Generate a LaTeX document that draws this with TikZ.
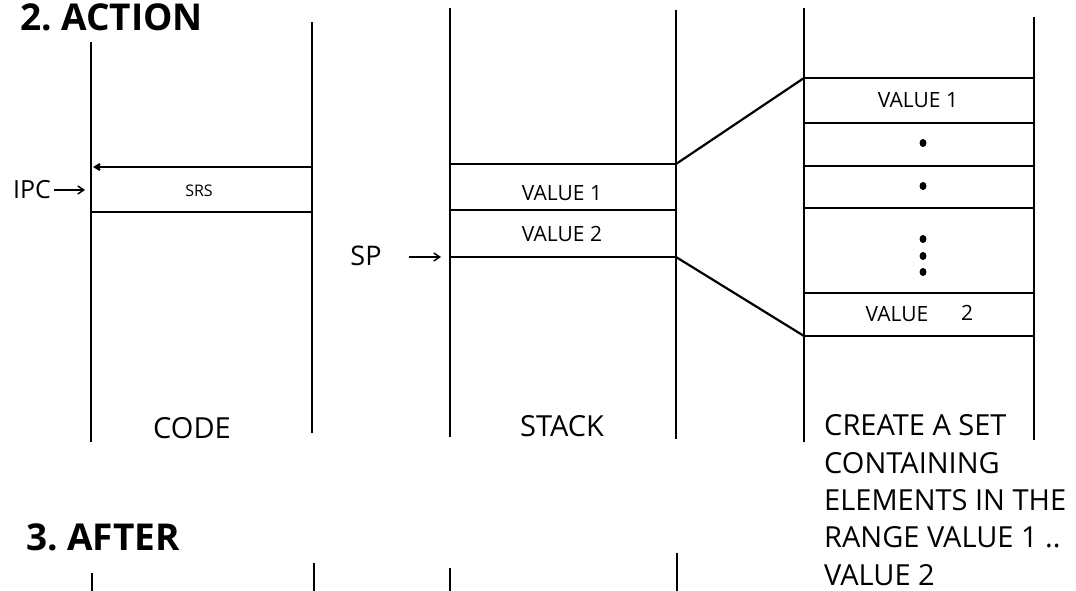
\documentclass[tikz,border=0pt]{standalone}
\usepackage{fontspec}
\setmainfont{Open Sans}
\usetikzlibrary{arrows.meta}
\usetikzlibrary{shapes.geometric}
\tikzset{
  vline/.style={line width=1.4pt},
  hline/.style={line width=2.2pt},
  diag/.style={line width=2.2pt},
  lbl/.style={inner sep=0pt, font=\fontsize{29}{32}\selectfont},
  small/.style={inner sep=0pt, font=\fontsize{21}{24}\selectfont},
  head/.style={inner sep=0pt, anchor=west, font=\bfseries\fontsize{37}{40}\selectfont},
  dotmark/.style={ellipse, fill=black, inner sep=0pt, minimum width=7pt, minimum height=8pt},
  ptr/.style={line width=1.4pt, -{Straight Barb[length=6pt,width=8pt]}}
}
\begin{document}
\begin{tikzpicture}[x=1pt,y=-1pt]
\useasboundingbox (0,0) rectangle (1076,591);
% column coordinates
\coordinate (cLt) at (91,42);   \coordinate (cLb) at (91,442);
\coordinate (cRt) at (312,22);  \coordinate (cRb) at (312,433);
\coordinate (sLt) at (450,8);   \coordinate (sLb) at (450,437);
\coordinate (sRt) at (676,10);  \coordinate (sRb) at (676,439);
\coordinate (tLt) at (804,8);   \coordinate (tLb) at (804,442);
\coordinate (tRt) at (1034,17); \coordinate (tRb) at (1034,440);
\draw[vline] (cLt) -- (cLb);
\draw[vline] (cRt) -- (cRb);
\draw[vline] (sLt) -- (sLb);
\draw[vline] (sRt) -- (sRb);
\draw[vline] (tLt) -- (tLb);
\draw[vline] (tRt) -- (tRb);
% headings
\node[head] (h2) at (20,17) {2.\ ACTION};
\node[head] (h3) at (26,537) {3.\ AFTER};
% code rows
\coordinate (c1L) at (93,167); \coordinate (c1R) at (312,167);
\coordinate (c2L) at (91,212); \coordinate (c2R) at (312,212);
\draw[hline, -{Straight Barb[length=5pt,width=6pt]}] (c1R) -- (c1L);
\draw[hline] (c2L) -- (c2R);
\node[small, font=\fontsize{16}{20}\selectfont] (srs) at (199,191) {SRS};
\node[lbl, font=\fontsize{25}{28}\selectfont] (ipc) at (32,190) {IPC};
\coordinate (ipcS) at (54,190); \coordinate (ipcE) at (85,190);
\draw[ptr] (ipcS) -- (ipcE);
% stack rows
\coordinate (s1L) at (450,164); \coordinate (s1R) at (676,164);
\coordinate (s2L) at (450,210); \coordinate (s2R) at (676,210);
\coordinate (s3L) at (450,257); \coordinate (s3R) at (676,257);
\draw[hline] (s1L) -- (s1R);
\draw[hline] (s2L) -- (s2R);
\draw[hline] (s3L) -- (s3R);
\node[small] (sv1) at (562,193) {VALUE 1};
\node[small] (sv2) at (562,234) {VALUE 2};
\node[lbl, font=\fontsize{27}{30}\selectfont] (sp) at (366,256) {SP};
\coordinate (spS) at (409,257); \coordinate (spE) at (441,257);
\draw[ptr] (spS) -- (spE);
% set rows
\coordinate (t1L) at (804,78);  \coordinate (t1R) at (1034,78);
\coordinate (t2L) at (804,123); \coordinate (t2R) at (1034,123);
\coordinate (t3L) at (804,166); \coordinate (t3R) at (1034,166);
\coordinate (t4L) at (804,208); \coordinate (t4R) at (1034,208);
\coordinate (t5L) at (804,293); \coordinate (t5R) at (1034,293);
\coordinate (t6L) at (804,336); \coordinate (t6R) at (1034,336);
\foreach \i in {1,...,6} {\draw[hline] (t\i L) -- (t\i R);}
\node[small] (tv1) at (918,100) {VALUE 1};
\node[dotmark] (d1) at (923,143) {};
\node[dotmark] (d2) at (923,186) {};
\node[dotmark] (d3) at (923,239) {};
\node[dotmark] (d4) at (923,256) {};
\node[dotmark] (d5) at (923,272) {};
\node[small] (tv2a) at (897,314) {VALUE};
\node[small] (tv2b) at (967,313) {2};
% diagonals
\draw[diag] (s1R) -- (t1L);
\draw[diag] (s3R) -- (t6L);
% column labels
\node[lbl] (code) at (192,428) {CODE};
\node[lbl] (stack) at (562,426) {STACK};
\node[lbl, anchor=west] (cr1) at (824,425) {CREATE A SET};
\node[lbl, anchor=west] (cr2) at (824,463) {CONTAINING};
\node[lbl, anchor=west] (cr3) at (824,500) {ELEMENTS IN THE};
\node[lbl, anchor=west] (cr4) at (824,537) {RANGE VALUE 1 ..};
\node[lbl, anchor=west] (cr5) at (824,575) {VALUE 2};
% after stubs
\coordinate (a1t) at (92,573);  \coordinate (a1b) at (92,591);
\coordinate (a2t) at (314,563); \coordinate (a2b) at (314,591);
\coordinate (a3t) at (450,568); \coordinate (a3b) at (450,591);
\coordinate (a4t) at (677,553); \coordinate (a4b) at (677,591);
\draw[vline] (a1t) -- (a1b);
\draw[vline] (a2t) -- (a2b);
\draw[vline] (a3t) -- (a3b);
\draw[vline] (a4t) -- (a4b);
\end{tikzpicture}
\end{document}
